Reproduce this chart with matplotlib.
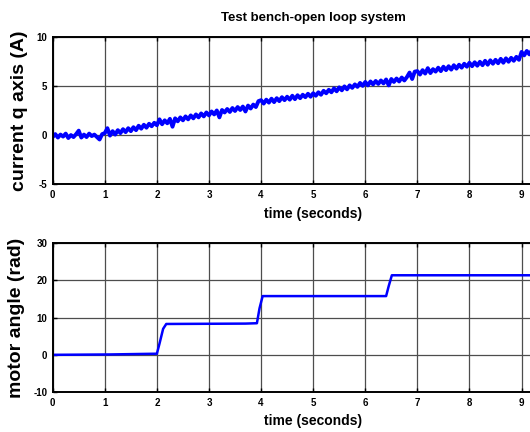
import numpy as np
import matplotlib.pyplot as plt

plt.rcParams['axes.unicode_minus'] = False

current_t0 = 0.0
current_dt = 0.05
current = [
    -0.2, 0.1, -0.25, 0.05, -0.15, 0.15, -0.3, 0.0, -0.2, 0.1, 0.45, -0.25, 0.05, -0.2, 0.15, -0.1, 0.05, -0.2, -0.45, 0.1,
    0.2, 0.7, -0.05, 0.4, 0.05, 0.5, 0.2, 0.6, 0.3, 0.7, 0.4, 0.8, 0.5, 0.95, 0.65, 1.05, 0.75, 1.15, 0.9, 1.25,
    1.0, 1.6, 1.1, 1.5, 1.2, 1.65, 0.85, 1.7, 1.4, 1.8, 1.5, 1.9, 1.6, 2.0, 1.7, 2.1, 1.8, 2.2, 1.9, 2.3,
    2.0, 2.4, 2.1, 2.5, 1.8, 2.55, 2.3, 2.65, 2.35, 2.75, 2.45, 2.85, 2.55, 2.9, 2.4, 3.0, 2.7, 3.1, 2.85, 3.45,
    3.55, 3.2, 3.6, 3.3, 3.7, 3.35, 3.75, 3.45, 3.85, 3.55, 3.9, 3.6, 4.0, 3.65, 4.05, 3.75, 4.1, 3.85, 4.2, 3.9,
    4.25, 4.0, 4.35, 4.1, 4.5, 4.25, 4.6, 4.35, 4.75, 4.45, 4.85, 4.55, 4.95, 4.65, 5.05, 4.8, 5.15, 4.9, 5.3, 5.0,
    5.4, 5.05, 5.45, 5.15, 5.5, 5.2, 5.55, 5.25, 5.65, 5.05, 5.7, 5.4, 5.75, 5.45, 5.85, 5.55, 5.9, 6.35, 5.7, 6.45,
    6.5, 6.15, 6.6, 6.25, 6.8, 6.3, 6.7, 6.45, 6.85, 6.5, 6.95, 6.6, 7.0, 6.65, 7.1, 6.75, 7.15, 6.85, 7.25, 6.95,
    7.35, 7.0, 7.4, 7.05, 7.45, 7.1, 7.55, 7.15, 7.6, 7.25, 7.65, 7.3, 7.75, 7.35, 7.8, 7.45, 7.85, 7.55, 7.95, 7.65,
    8.45, 8.1, 8.55, 8.2, 8.65, 8.35, 8.8,
]

# bottom plot: motor angle breakpoints
angle_t = [0.0, 1.1, 2.0, 2.05, 2.12, 2.18, 3.7, 3.92, 3.97, 4.03, 6.4, 6.45, 6.51, 10.0]
angle_v = [0.0, 0.1, 0.3, 3.0, 7.0, 8.3, 8.4, 8.5, 12.5, 15.8, 15.8, 18.5, 21.4, 21.4]

xticks = list(range(0, 10))
top_yticks = [-5, 0, 5, 10]
bot_yticks = [-10, 0, 10, 20, 30]

narrow = ['Liberation Sans Narrow', 'Liberation Sans', 'DejaVu Sans']
wide = ['Liberation Sans', 'DejaVu Sans']

fig = plt.figure(figsize=(5.3, 4.32), dpi=100)
ax1 = fig.add_axes([0.0994, 0.5734, 0.983, 0.3417])
ax2 = fig.add_axes([0.0994, 0.0926, 0.983, 0.3442])


def style(ax, yticks, ylim):
    ax.set_xlim(0, 10)
    ax.set_ylim(*ylim)
    ax.set_xticks(xticks)
    ax.set_yticks(yticks)
    ax.grid(True, color='0.3', linewidth=0.9)
    ax.set_axisbelow(True)
    ax.tick_params(direction='in', length=3, width=1, top=True, right=True, pad=4)
    for s in ax.spines.values():
        s.set_linewidth(1.4)
    for lab in ax.get_xticklabels() + ax.get_yticklabels():
        lab.set_fontfamily(narrow)
        lab.set_fontweight('bold')
        lab.set_fontsize(7)
    ax.set_xlabel('time (seconds)', family=narrow, fontweight='bold', fontsize=10, labelpad=5)


t = current_t0 + current_dt * np.arange(len(current))
ax1.plot(t, current, color='#0000ff', linewidth=2.8)
style(ax1, top_yticks, (-5, 10))
ax1.set_title('Test bench-open loop system', family=narrow, fontweight='bold', fontsize=9.5, pad=11)
ax1.set_ylabel('current q axis (A)', family=wide, fontweight='bold', fontsize=14, labelpad=6)

ax2.plot(angle_t, angle_v, color='#0000ff', linewidth=1.8)
style(ax2, bot_yticks, (-10, 30))
ax2.set_ylabel('motor angle (rad)', family=wide, fontweight='bold', fontsize=14, labelpad=6)

fig.savefig('out.png', dpi=100)
